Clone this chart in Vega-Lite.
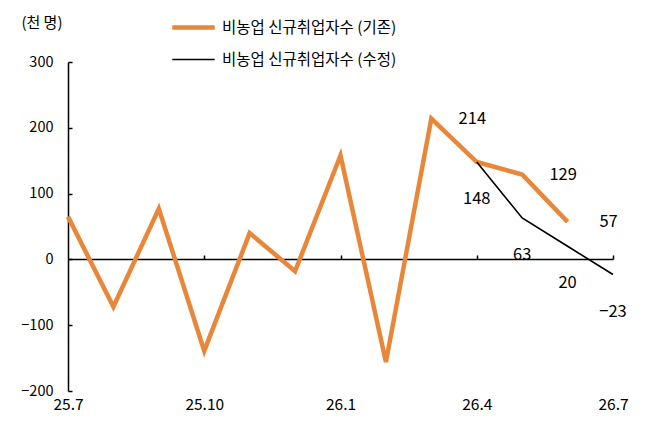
{
  "$schema": "https://vega.github.io/schema/vega-lite/v6.json",
  "width": 545,
  "height": 329,
  "autosize": "none",
  "padding": {"left": 68, "top": 62, "right": 33, "bottom": 48},
  "background": "white",
  "view": {"stroke": null},
  "datasets": {
    "jobs": [
      {"month": "25.7", "value": 65, "series": "비농업 신규취업자수 (기존)"},
      {"month": "25.8", "value": -72, "series": "비농업 신규취업자수 (기존)"},
      {"month": "25.9", "value": 77, "series": "비농업 신규취업자수 (기존)"},
      {"month": "25.10", "value": -139, "series": "비농업 신규취업자수 (기존)"},
      {"month": "25.11", "value": 40, "series": "비농업 신규취업자수 (기존)"},
      {"month": "25.12", "value": -18, "series": "비농업 신규취업자수 (기존)"},
      {"month": "26.1", "value": 158, "series": "비농업 신규취업자수 (기존)"},
      {"month": "26.2", "value": -156, "series": "비농업 신규취업자수 (기존)"},
      {"month": "26.3", "value": 214, "series": "비농업 신규취업자수 (기존)"},
      {"month": "26.4", "value": 148, "series": "비농업 신규취업자수 (기존)"},
      {"month": "26.5", "value": 129, "series": "비농업 신규취업자수 (기존)"},
      {"month": "26.6", "value": 57, "series": "비농업 신규취업자수 (기존)"},
      {"month": "26.4", "value": 148, "series": "비농업 신규취업자수 (수정)"},
      {"month": "26.5", "value": 63, "series": "비농업 신규취업자수 (수정)"},
      {"month": "26.6", "value": 20, "series": "비농업 신규취업자수 (수정)"},
      {"month": "26.7", "value": -23, "series": "비농업 신규취업자수 (수정)"}
    ]
  },
  "data": {"name": "jobs"},
  "encoding": {
    "x": {
      "field": "month",
      "type": "ordinal",
      "sort": null,
      "axis": null,
      "scale": {
        "type": "point",
        "padding": 0,
        "domain": ["25.7", "25.8", "25.9", "25.10", "25.11", "25.12", "26.1", "26.2", "26.3", "26.4", "26.5", "26.6", "26.7"]
      }
    },
    "y": {
      "field": "value",
      "type": "quantitative",
      "scale": {"domain": [-200, 300], "nice": false, "zero": false}
    }
  },
  "layer": [
    {
      "transform": [{"filter": "datum.series == '비농업 신규취업자수 (기존)'"}],
      "mark": {"type": "line", "strokeCap": "butt", "strokeJoin": "miter"},
      "encoding": {
        "x": {
          "field": "month",
          "type": "ordinal",
          "axis": {
            "orient": "bottom",
            "title": null,
            "domain": false,
            "ticks": false,
            "labelAngle": 0,
            "labelPadding": 6,
            "labelFontSize": 15.5,
            "values": ["25.7", "25.10", "26.1", "26.4", "26.7"]
          }
        },
        "y": {
          "field": "value",
          "type": "quantitative",
          "axis": {
            "title": "(천 명)",
            "titleAngle": 0,
            "titleX": -6,
            "titleY": -40,
            "titleAlign": "right",
            "titleBaseline": "middle",
            "titleFontWeight": "normal",
            "titleFontSize": 15,
            "values": [-200, -100, 0, 100, 200, 300],
            "grid": false,
            "domainColor": "black",
            "domainWidth": 1.5,
            "tickColor": "black",
            "tickWidth": 1.5,
            "tickSize": -4,
            "labelPadding": 19,
            "labelFontSize": 14.5
          }
        },
        "color": {
          "field": "series",
          "type": "nominal",
          "scale": {
            "domain": ["비농업 신규취업자수 (기존)", "비농업 신규취업자수 (수정)"],
            "range": ["#E8873A", "black"]
          },
          "legend": {
            "title": null,
            "orient": "none",
            "legendX": 102,
            "legendY": -58,
            "symbolType": "stroke",
            "symbolSize": 1800,
            "rowPadding": -7,
            "labelFontSize": 15.5,
            "labelOffset": 5,
            "labelLimit": 0
          }
        },
        "strokeWidth": {
          "field": "series",
          "type": "nominal",
          "scale": {
            "domain": ["비농업 신규취업자수 (기존)", "비농업 신규취업자수 (수정)"],
            "range": [4.5, 1.6]
          },
          "legend": {
            "title": null,
            "orient": "none",
            "legendX": 102,
            "legendY": -58,
            "symbolType": "stroke",
            "symbolSize": 1800,
            "rowPadding": -7,
            "labelFontSize": 15.5,
            "labelOffset": 5,
            "labelLimit": 0
          }
        }
      }
    },
    {
      "transform": [{"filter": "datum.series == '비농업 신규취업자수 (수정)'"}],
      "mark": {"type": "line", "strokeCap": "butt"},
      "encoding": {
        "x": {
          "field": "month",
          "type": "ordinal",
          "axis": {
            "orient": "top",
            "offset": -197,
            "title": null,
            "labels": false,
            "domainColor": "black",
            "domainWidth": 1.5,
            "tickColor": "black",
            "tickWidth": 1.5,
            "tickSize": 4,
            "values": ["25.10", "26.1", "26.4", "26.7"]
          }
        },
        "color": {"field": "series", "type": "nominal"},
        "strokeWidth": {"field": "series", "type": "nominal"}
      }
    },
    {
      "transform": [{"filter": "indexof(['26.3', '26.5', '26.6'], datum.month) >= 0 && datum.series == '비농업 신규취업자수 (기존)'"}],
      "mark": {"type": "text", "align": "center", "baseline": "middle", "dx": 41, "fontSize": 16.5},
      "encoding": {"text": {"field": "value", "type": "quantitative"}}
    },
    {
      "transform": [
        {"filter": "(datum.month == '26.4' && datum.series == '비농업 신규취업자수 (기존)') || (datum.month != '26.4' && datum.series == '비농업 신규취업자수 (수정)')"}
      ],
      "mark": {"type": "text", "align": "center", "baseline": "middle", "dy": 37, "fontSize": 16.5},
      "encoding": {"text": {"field": "value", "type": "quantitative"}}
    }
  ],
  "resolve": {"axis": {"x": "independent"}},
  "config": {
    "font": "Noto Sans CJK KR",
    "axis": {"labelFontSize": 14, "labelColor": "black", "labelFont": "Noto Sans CJK KR", "titleColor": "black"},
    "legend": {"labelColor": "black"},
    "text": {"color": "black"}
  }
}
